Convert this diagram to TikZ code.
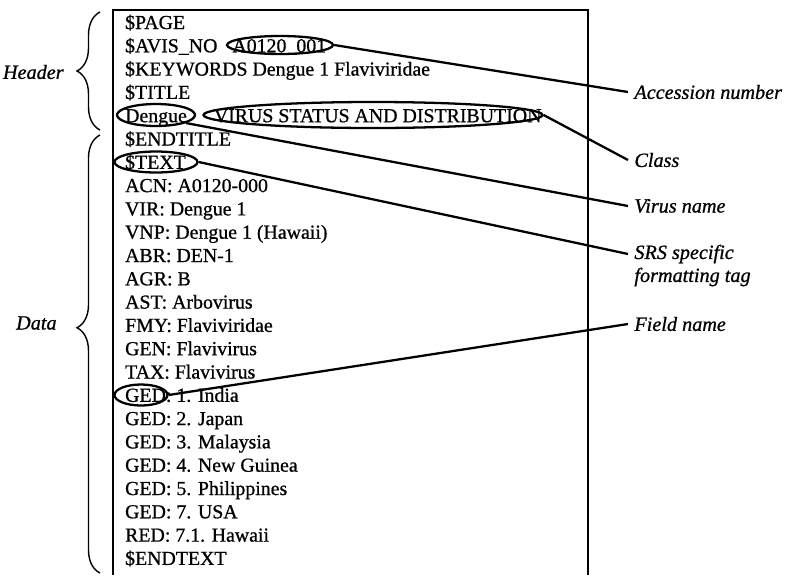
\documentclass[tikz,border=0pt]{standalone}
\usepackage{fontspec}
\setmainfont{Liberation Serif}[FakeBold=0.8]
\usetikzlibrary{positioning,shapes.geometric,decorations.pathreplacing}
\tikzset{
  record line/.style={
    anchor=base west,
    inner sep=0pt,
    font=\fontsize{11.3}{13}\selectfont,
  },
  tag ring/.style={
    draw,
    ellipse,
    inner sep=0pt,
    minimum width={#1},
    minimum height={0.42cm},
  },
  callout/.style={
    anchor=west,
    inner xsep=3pt,
    inner ysep=0pt,
    font=\fontsize{11.5}{13}\selectfont\itshape,
  },
  group brace/.style={
    decorate,
    line width=0.8pt,
    decoration={brace, amplitude=0.46cm, aspect=#1},
  }
}

\begin{document}
\begin{tikzpicture}[x=0.02cm, y=-0.02cm, line width=1.3pt]
        \useasboundingbox (0,0) rectangle (790,575);
        \draw [line width=1.1pt] (113,575) -- (113,10) -- (588,10) -- (588,575);

        \foreach \txt [count=\i from 0] in {\$PAGE, \$AVIS\_NO\hspace{0.3cm}A0120\_001, \$KEYWORDS Dengue 1 Flaviviridae, \$TITLE, Dengue\hspace{0.54cm}VIRUS STATUS AND DISTRIBUTION, \$ENDTITLE, \$TEXT, ACN: A0120-000, VIR: Dengue 1, VNP: Dengue 1 (Hawaii), ABR: DEN-1, AGR: B, AST: Arbovirus, FMY: Flaviviridae, GEN: Flavivirus, TAX: Flavivirus, GED: 1. India, GED: 2. Japan, GED: 3. Malaysia, GED: 4. New Guinea, GED: 5. Philippines, GED: 7. USA, RED: 7.1. Hawaii, \$ENDTEXT}
          \node [record line] (r\i) at (124, {29+23.3*\i}) {\txt};

        \node [tag ring=2.12cm, minimum height=0.36cm] (acc) at (280,45) {};
        \node [tag ring=1.56cm, minimum height=0.44cm] (dengue) at (156,115) {};
        \node [tag ring=6.78cm, minimum height=0.52cm] (class) at (373,115) {};
        \node [tag ring=1.66cm] (stext) at (156,162) {};
        \node [tag ring=1.06cm] (ged) at (141,395) {};

        \node [callout] (acc lab) at (628,92) {Accession number};
        \node [callout] (class lab) at (628,160) {Class};
        \node [callout] (virus lab) at (628,206) {Virus name};
        \node [callout] (srs lab) at (628,254) {SRS specific};
        \node [callout] (fmt lab) at (628,277) {formatting tag};
        \node [callout] (field lab) at (628,324) {Field name};

        \draw (acc.east) -- (acc lab.west);
        \draw (class.east) -- (class lab.west);
        \draw (dengue.-15) -- (virus lab.west);
        \draw (stext.east) -- (srs lab.west);
        \draw (ged.east) -- (field lab.west);

        \draw [group brace=0.5] (100,130) -- (100,12);
        \draw [group brace=0.56] (100,573) -- (100,135);
        \node [callout, anchor=east] (header) at (70,72) {Header};
        \node [callout, anchor=east] (data) at (63,323) {Data};
      \end{tikzpicture}
\end{document}
